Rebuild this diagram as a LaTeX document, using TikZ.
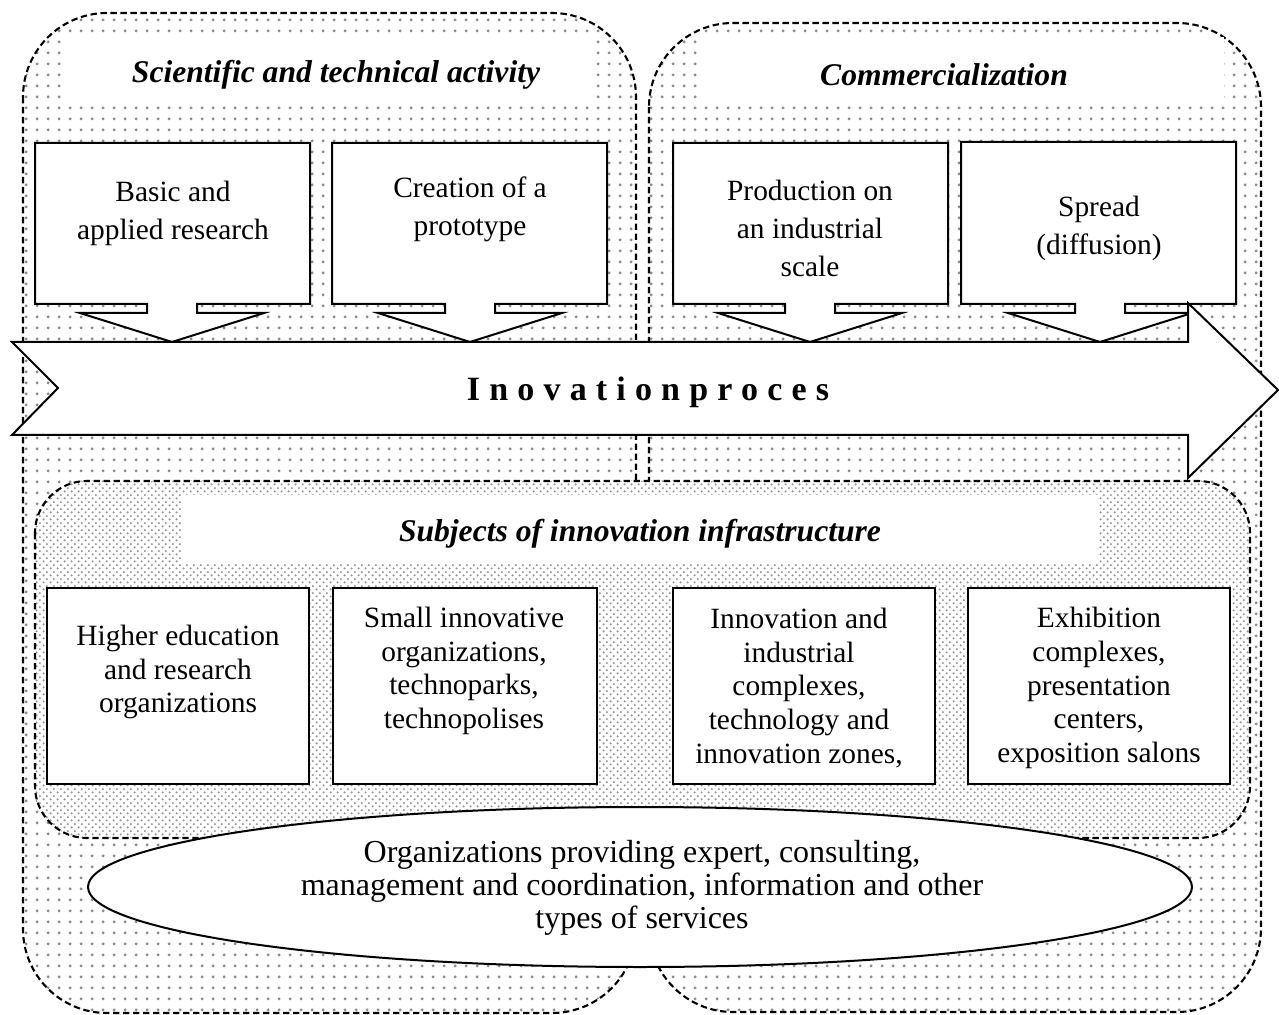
\documentclass[tikz,border=0pt]{standalone}
\usepackage{fontspec}
\setmainfont{Liberation Serif}
\usetikzlibrary{shapes.geometric,patterns}

% dotted screens used as backgrounds of the regions
\pgfdeclarepatternformonly{coarsedots}{\pgfqpoint{0pt}{0pt}}{\pgfqpoint{5.3pt}{5.3pt}}{\pgfqpoint{5.3pt}{5.3pt}}%
  {\pgfpathcircle{\pgfqpoint{2.65pt}{2.65pt}}{0.8pt}\pgfusepath{fill}}
\pgfdeclarepatternformonly{finedots}{\pgfqpoint{0pt}{0pt}}{\pgfqpoint{3.6pt}{3.6pt}}{\pgfqpoint{3.6pt}{3.6pt}}%
  {\pgfpathcircle{\pgfqpoint{0.9pt}{0.9pt}}{0.68pt}\pgfpathcircle{\pgfqpoint{2.7pt}{2.7pt}}{0.68pt}\pgfusepath{fill}}

% box with a downward callout arrow: #1 left, #2 right, #3 tip x, #4 top
\newcommand\calloutbox[4]{%
  \draw[boxline] (#1,#4) -- (#2,#4) -- (#2,304) -- ({#3+25},304) -- ({#3+25},313)
    -- ({#3+92},313) -- (#3,342) -- ({#3-92},313) -- ({#3-25},313) -- ({#3-25},304)
    -- (#1,304) -- cycle;}

\begin{document}
\begin{tikzpicture}[x=0.5pt,y=-0.5pt,
  region/.style={draw, dash pattern=on 3.2pt off 1.8pt, line width=1.05pt,
    rounded corners=42pt, preaction={fill=white}, pattern=coarsedots, pattern color=black!45},
  subregion/.style={draw, dash pattern=on 3.2pt off 1.8pt, line width=1.05pt,
    rounded corners=26pt, preaction={fill=white}, pattern=finedots, pattern color=black!42},
  boxline/.style={draw, fill=white, line width=1pt, line join=miter},
  bbox/.style={draw, fill=white, line width=1pt, inner sep=0pt, minimum height=98pt},
  txt/.style={align=center, inner sep=0pt, font=\fontsize{14.7}{19}\selectfont},
  btxt/.style={align=center, inner sep=0pt, font=\fontsize{14.7}{16.9}\selectfont},
  title/.style={inner sep=0pt, font=\fontsize{15.8}{18}\selectfont\bfseries\itshape}]

\useasboundingbox (0,0) rectangle (1279,1015);

% two stages of the process
\draw[region] (23,13) rectangle (636,1013);
\draw[region] (649,23) rectangle (1261,1012);

% stage headings
\fill[white] (62,37) rectangle (593,102);
\fill[white] (697,37) rectangle (1224,104);
\node[title] (sci) at (336,75) {Scientific and technical activity};
\node[title] (com) at (944,75) {Commercialization};

% stage steps
\calloutbox{35}{310}{172}{143}
\calloutbox{332}{607}{470}{143}
\calloutbox{673}{948}{810}{143}
\calloutbox{961}{1236}{1100}{142}
\node[txt] (basic) at (173,213) {Basic and\\applied research};
\node[txt] (proto) at (470,209) {Creation of a\\prototype};
\node[txt] (prod) at (810,228) {Production on\\an industrial\\scale};
\node[txt] (spread) at (1099,228) {Spread\\(diffusion)};

% main process arrow
\draw[boxline] (12,342) -- (1188,342) -- (1188,303) -- (1278,390) -- (1188,478)
  -- (1188,435) -- (12,435) -- (58,388) -- cycle;
\node[inner sep=0pt, font=\fontsize{17}{20}\selectfont\bfseries\addfontfeature{LetterSpace=27}]
  (proc) at (648,392) {Inovationproces};

% infrastructure
\draw[subregion] (35,481) rectangle (1250,838);
\fill[white] (182,495) rectangle (1098,563);
\node[title] (subj) at (640,534) {Subjects of innovation infrastructure};

\node[bbox, minimum width=131pt] (b1) at (178,686) {};
\node[bbox, minimum width=132pt] (b2) at (465,686) {};
\node[bbox, minimum width=131pt] (b3) at (804,686) {};
\node[bbox, minimum width=131pt] (b4) at (1099,686) {};
\node[btxt] (t1) at (178,672) {Higher education\\and research\\organizations};
\node[btxt] (t2) at (464,671) {Small innovative\\organizations,\\technoparks,\\technopolises};
\node[btxt] (t3) at (799,688) {Innovation and\\industrial\\complexes,\\technology and\\innovation zones,};
\node[btxt] (t4) at (1099,688) {Exhibition\\complexes,\\presentation\\centers,\\exposition salons};

% service organizations
\node[ellipse, draw, fill=white, line width=1pt, inner sep=0pt,
  minimum width=552pt, minimum height=80pt] (serv) at (640,887) {};
\node[align=center, inner sep=0pt, font=\fontsize{16}{16.5}\selectfont] (servt) at (642,888)
  {Organizations providing expert, consulting,\\management and coordination, information and other\\types of services};
\end{tikzpicture}
\end{document}
